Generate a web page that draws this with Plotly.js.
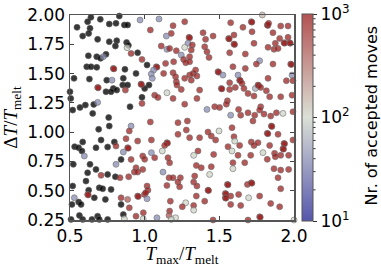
<!DOCTYPE html>
<html>
<head>
<meta charset="utf-8">
<script src="https://cdn.plot.ly/plotly-3.0.1.min.js"></script>
<style>html,body{margin:0;padding:0;background:#fff;}#chart{width:381px;height:267px;}</style>
</head>
<body>
<div id="chart"></div>
<script>
// Runs with a count of accepted moves (coloured markers)
const tmaxRatio = [
  0.969,0.882,0.909,0.982,0.723,0.790,0.794,0.781,0.975,0.979,0.685,0.689,0.871,0.982,0.685,
  0.909,0.897,0.875,0.953,0.808,0.886,0.890,0.857,0.909,0.987,0.596,0.808,0.942,0.708,0.835,0.893,0.931,0.953,0.987,0.618,0.622,0.529,0.842,0.886,0.953,0.957,0.998,0.897,0.864,0.990,0.942,0.991,
  1.096,1.268,1.190,1.038,1.178,1.145,1.391,1.458,1.408,1.297,1.301,1.290,1.268,1.319,1.312,1.111,1.149,1.167,1.212,1.402,1.417,1.431,1.245,1.301,1.261,1.275,1.301,1.078,1.082,1.140,1.194,1.060,1.044,1.051,1.127,1.190,1.207,1.212,1.216,1.268,1.301,1.324,1.341,1.350,1.312,1.491,1.495,1.149,1.067,1.089,1.245,1.368,1.190,1.350,1.268,1.417,1.469,1.502,
  1.038,1.223,1.286,1.149,1.153,1.134,1.045,1.223,1.279,1.301,1.368,1.424,1.446,1.475,1.498,1.045,1.118,1.000,1.067,1.156,1.167,1.357,1.328,1.462,1.346,1.379,1.446,1.123,1.435,1.163,1.190,1.239,1.223,1.149,1.234,1.335,1.328,1.350,1.424,1.428,1.016,1.022,1.007,1.016,1.346,1.402,1.172,1.275,1.252,1.328,1.328,1.167,1.163,1.207,1.082,1.178,1.458,
  1.788,1.576,1.658,1.714,1.718,1.821,1.825,1.830,1.911,1.960,1.719,1.598,1.562,1.566,1.859,1.904,1.960,1.933,1.937,1.971,1.975,1.598,1.602,1.732,1.826,1.866,1.893,1.875,1.569,1.674,1.770,1.748,1.859,1.978,1.982,1.591,1.674,1.524,1.625,1.987,1.826,1.949,1.993,1.569,1.636,1.640,1.652,1.513,1.517,1.569,1.607,1.665,1.741,1.759,1.763,1.777,1.815,1.692,1.732,1.837,1.911,1.987,1.554,1.547,1.629,1.777,1.770,1.692,1.643,1.737,1.799,1.844,1.882,1.926,1.993,1.576,
  1.725,1.585,1.848,1.852,1.821,1.825,1.893,1.993,1.598,1.603,1.558,1.636,1.585,1.714,1.732,1.759,1.837,1.933,1.937,1.792,1.821,1.870,1.875,1.911,1.926,1.930,1.964,1.625,1.710,1.670,1.591,1.591,1.866,1.911,1.964,1.893,1.911,1.554,1.558,1.540,1.544,1.540,1.544,1.576,1.576,1.629,1.688,1.714,1.718,1.696,1.770,1.643,1.844,1.904,1.692,1.770,1.774,2.000
];
const dTRatio = [
  1.957,1.721,1.672,1.621,1.644,1.544,1.540,1.444,1.410,1.406,1.382,1.378,1.359,1.245,1.254,
  1.052,1.010,0.944,0.924,0.881,0.867,0.863,0.830,0.767,0.796,0.796,0.725,0.696,0.631,0.611,0.619,0.659,0.659,0.682,0.468,0.464,0.440,0.440,0.426,0.454,0.450,0.468,0.354,0.260,0.260,0.283,0.312,
  1.966,1.943,1.909,1.872,1.843,1.820,1.849,1.820,1.792,1.809,1.805,1.758,1.724,1.744,1.701,1.735,1.707,1.715,1.695,1.729,1.687,1.638,1.658,1.644,1.621,1.593,1.601,1.558,1.554,1.587,1.601,1.530,1.496,1.459,1.501,1.507,1.473,1.430,1.402,1.459,1.487,1.501,1.530,1.479,1.444,1.516,1.512,1.336,1.316,1.296,1.365,1.359,1.288,1.288,1.239,1.194,1.217,1.211,
  1.087,1.081,1.095,0.910,0.906,0.887,0.933,0.981,1.018,0.953,0.953,1.001,0.967,0.933,1.010,0.825,0.839,0.768,0.782,0.782,0.739,0.839,0.802,0.810,0.716,0.696,0.705,0.659,0.639,0.611,0.611,0.611,0.574,0.545,0.534,0.625,0.574,0.540,0.505,0.501,0.540,0.505,0.483,0.431,0.454,0.411,0.411,0.397,0.363,0.374,0.334,0.326,0.289,0.269,0.269,0.255,0.250,
  2.000,1.934,1.895,1.943,1.939,1.915,1.911,1.929,1.906,1.906,1.857,1.829,1.800,1.796,1.849,1.800,1.809,1.763,1.759,1.763,1.759,1.752,1.748,1.758,1.724,1.707,1.715,1.758,1.678,1.667,1.610,1.581,1.581,1.581,1.577,1.558,1.544,1.487,1.487,1.487,1.459,1.439,1.439,1.422,1.444,1.440,1.416,1.373,1.369,1.365,1.382,1.373,1.373,1.402,1.398,1.382,1.353,1.330,1.308,1.302,1.302,1.316,1.268,1.239,1.194,1.217,1.188,1.165,1.145,1.145,1.154,1.137,1.165,1.160,1.174,1.145,
  1.095,1.038,1.052,1.048,0.990,0.986,0.981,0.933,0.961,0.924,0.876,0.887,0.839,0.916,0.887,0.910,0.887,0.904,0.900,0.825,0.768,0.819,0.790,0.802,0.859,0.855,0.802,0.802,0.802,0.739,0.739,0.688,0.688,0.676,0.682,0.611,0.517,0.554,0.550,0.477,0.473,0.440,0.436,0.454,0.383,0.468,0.554,0.568,0.564,0.440,0.454,0.374,0.391,0.363,0.250,0.277,0.273,0.250
];
const acceptedMoves = [
  40,100,900,900,40,900,900,40,900,900,900,900,900,900,40,
  40,900,900,900,900,900,900,40,900,900,40,40,900,900,900,900,900,900,900,900,900,40,900,450,900,900,900,900,100,100,900,900,
  40,900,900,900,900,40,900,900,900,900,900,40,100,900,900,900,40,900,900,900,900,900,40,900,900,900,900,900,900,900,900,40,40,40,900,900,900,900,900,900,900,900,900,900,900,900,900,100,900,900,900,900,900,900,900,40,900,900,
  900,900,900,900,900,900,900,900,900,900,900,900,900,900,100,40,100,900,900,900,900,900,100,900,900,900,900,40,100,900,900,900,900,900,900,900,900,900,900,900,900,900,900,40,900,900,900,100,900,900,100,900,450,100,40,100,900,
  150,900,900,900,900,900,900,900,900,900,900,900,900,900,900,900,900,900,900,900,900,900,900,900,900,900,900,900,900,900,40,900,900,900,900,900,900,40,40,40,900,900,900,900,900,900,900,900,900,900,900,900,60,900,900,900,900,900,900,900,900,900,900,900,900,900,900,900,900,900,900,900,900,100,900,40,
  900,900,900,900,900,900,900,900,900,100,900,900,100,900,900,900,900,900,900,100,900,900,900,900,900,900,900,900,900,900,900,100,900,900,900,900,900,900,900,900,900,900,900,900,900,900,900,900,900,100,900,900,900,900,900,900,900,100
];
// Runs shown in black
const tmaxBlack = [
  0.640,0.703,0.830,0.618,0.763,0.808,0.864,0.886,0.547,0.634,0.625,0.585,0.685,0.763,0.813,0.804,0.879,0.891,0.953,0.623,0.679,0.705,0.741,0.612,0.641,0.679,0.868,0.942,0.527,0.630,0.746,0.857,0.853,0.886,0.790,0.813,0.500,0.741,0.775,0.505,0.982,0.659,0.603,0.567,0.518,0.902,0.652,0.759,
  0.763,0.692,0.531,0.558,0.585,0.580,0.708,0.674,0.752,0.797,0.522,0.634,0.842,0.674,0.752,0.804,0.618,0.518,0.607,0.625,0.696,0.719,0.775,0.558,0.574,0.513,0.663,0.737,0.842,0.857,0.563,0.685,0.507,0.585,0.647,0.696,0.752,
  1.016,1.029,1.000
];
const dTBlack = [
  1.980,1.963,1.991,1.943,1.923,1.929,1.915,1.915,1.895,1.886,1.843,1.820,1.792,1.772,1.781,1.735,1.766,1.741,1.678,1.652,1.644,1.630,1.664,1.558,1.558,1.553,1.536,1.501,1.459,1.453,1.444,1.459,1.402,1.402,1.373,1.359,1.345,1.345,1.345,1.288,1.297,1.237,1.231,1.211,1.188,1.217,1.160,1.125,
  1.052,1.024,0.876,0.867,0.916,0.839,0.933,0.867,0.873,0.916,0.725,0.725,0.767,0.682,0.639,0.619,0.653,0.540,0.582,0.505,0.525,0.517,0.511,0.403,0.383,0.383,0.440,0.426,0.383,0.297,0.289,0.283,0.255,0.255,0.255,0.255,0.255,
  1.573,1.402,1.373
];
const xTickVals = [0.5, 1.0, 1.5, 2.0];
const xTickText = ['0.5', '1.0', '1.5', '2.0'];
const yTickVals = [0.25, 0.5, 0.75, 1.0, 1.25, 1.5, 1.75, 2.0];
const yTickText = ['0.25', '0.50', '0.75', '1.00', '1.25', '1.50', '1.75', '2.00'];
const cbMajor = [1, 2, 3];
const cbMajorText = ['10<sup>1</sup>', '10<sup>2</sup>', '10<sup>3</sup>'];
const cbTitle = 'Nr. of accepted moves';

// colorbar geometry (plot-area fractions)
const cbX0 = 1.036, cbThick = 11, cbLen = 1.01;
const plotW = 381 - 70 - 87;
const cbRight = cbX0 + cbThick / plotW;
const cbBottom = 0.5 - cbLen / 2;

// minor log ticks of the colour bar
const minorShapes = [];
for (let d = 1; d < 3; d++) {
  for (let m = 2; m <= 9; m++) {
    const v = d + Math.log10(m);
    const yy = cbBottom + (v - 1) / 2 * cbLen;
    minorShapes.push({type: 'line', xref: 'paper', yref: 'paper',
      x0: cbRight, x1: cbRight + 2.5 / plotW, y0: yy, y1: yy,
      line: {color: '#333', width: 1}});
  }
}

const colorscale = [
  [0, 'rgba(20,20,140,0.72)'],
  [0.5, 'rgba(205,212,198,0.72)'],
  [1, 'rgba(150,15,15,0.72)']
];

const sansFont = 'DejaVu Sans, Arial, sans-serif';
const serifFont = 'Liberation Serif, DejaVu Serif, serif';

const traces = [
  {
    type: 'scatter', mode: 'markers',
    x: tmaxBlack, y: dTBlack,
    cliponaxis: false, hoverinfo: 'skip',
    marker: {size: 6, color: 'rgba(0,0,0,0.78)', line: {color: 'rgba(90,90,90,0.8)', width: 0.8}}
  },
  {
    type: 'scatter', mode: 'markers',
    x: tmaxRatio, y: dTRatio,
    cliponaxis: false, hoverinfo: 'skip',
    marker: {
      size: 6,
      color: acceptedMoves.map(v => Math.log10(v)),
      cmin: 1, cmax: 3,
      colorscale: colorscale,
      line: {color: 'rgba(110,110,110,0.75)', width: 0.8},
      showscale: true,
      colorbar: {
        x: cbX0, xanchor: 'left', xref: 'paper',
        y: 0.5, yanchor: 'middle', len: cbLen, lenmode: 'fraction',
        thickness: cbThick, thicknessmode: 'pixels',
        xpad: 0, ypad: 0,
        outlinecolor: '#555', outlinewidth: 1,
        ticks: 'outside', ticklen: 4, tickcolor: '#333',
        tickvals: cbMajor, ticktext: cbMajorText,
        tickfont: {family: sansFont, size: 17, color: '#000'},
        title: {text: ''}
      }
    }
  }
];

const layout = {
  width: 381, height: 267,
  margin: {l: 70, r: 87, t: 15, b: 47, pad: 0},
  paper_bgcolor: '#fff', plot_bgcolor: '#fff',
  showlegend: false,
  shapes: minorShapes,
  annotations: [{
    text: cbTitle, xref: 'paper', yref: 'paper',
    x: (371 - 70) / plotW, y: 0.51, xanchor: 'center', yanchor: 'middle',
    textangle: -90, showarrow: false,
    font: {family: sansFont, size: 16, color: '#000'}
  }],
  xaxis: {
    range: [0.5, 2.0], tickvals: xTickVals, ticktext: xTickText,
    ticks: 'inside', ticklen: 4, tickcolor: '#444', tickwidth: 1,
    showline: true, linecolor: '#555', linewidth: 1.5, mirror: 'ticks',
    showgrid: false, zeroline: false,
    tickfont: {family: sansFont, size: 17, color: '#000'},
    title: {text: '<i>T</i><sub>max</sub>/<i>T</i><sub>melt</sub>', font: {family: serifFont, size: 19, color: '#000'}, standoff: 16}
  },
  yaxis: {
    range: [0.25, 2.0], tickvals: yTickVals, ticktext: yTickText,
    ticks: 'inside', ticklen: 4, tickcolor: '#444', tickwidth: 1,
    showline: true, linecolor: '#555', linewidth: 1.5, mirror: 'ticks',
    showgrid: false, zeroline: false,
    tickfont: {family: sansFont, size: 17, color: '#000'},
    title: {text: 'Δ<i>T</i>/<i>T</i><sub>melt</sub>', font: {family: serifFont, size: 19, color: '#000'}, standoff: 4}
  }
};

Plotly.newPlot('chart', traces, layout, {displayModeBar: false, staticPlot: true});
</script>
</body>
</html>
